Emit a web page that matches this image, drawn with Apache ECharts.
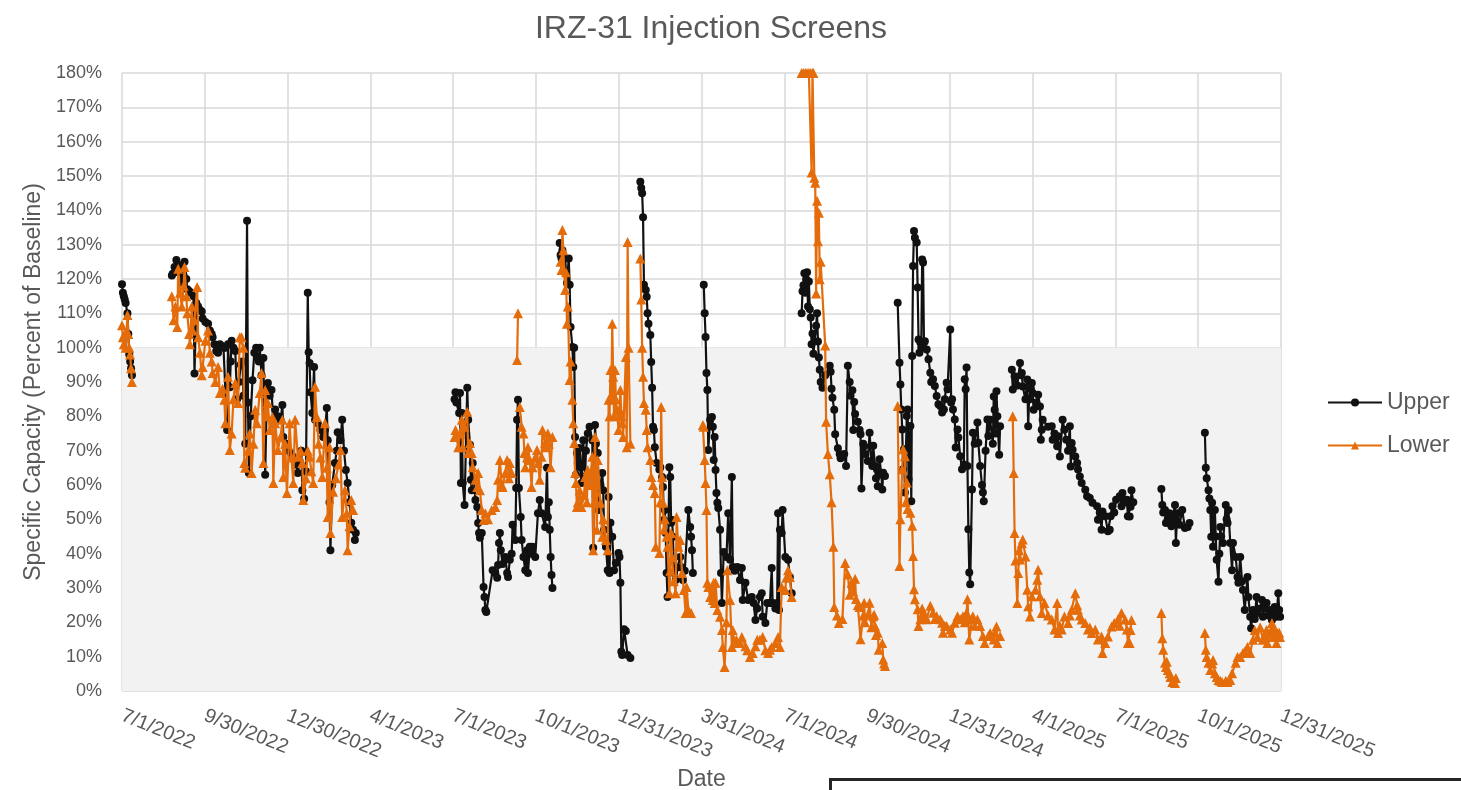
<!DOCTYPE html>
<html><head><meta charset="utf-8">
<script src="https://cdn.jsdelivr.net/npm/echarts@6/dist/echarts.min.js"></script>
<style>html,body{margin:0;padding:0;background:#fff}#chart{width:1461px;height:790px}</style>
</head><body><div id="chart"></div>
<script>
const chartTitle = 'IRZ-31 Injection Screens';
const xAxisTitle = 'Date';
const yAxisTitle = 'Specific Capacity (Percent of Baseline)';
const seriesNames = ['Upper', 'Lower'];
// x values: days since 7/1/2022 (axis runs 7/1/2022 .. 12/31/2025 = day 1279)
const xMaxDay = 1279;
const xTickLabels = ['7/1/2022','9/30/2022','12/30/2022','4/1/2023','7/1/2023','10/1/2023','12/31/2023','3/31/2024','7/1/2024','9/30/2024','12/31/2024','4/1/2025','7/1/2025','10/1/2025','12/31/2025'];
const yMax = 180, yStep = 10, shadedTop = 100;

// ---- Upper screen segments [day, percent] ----
const upperA = [[0,118.5],[1,116],[2,115],[3,114],[4,113],[6,110],[7,104],[8,98],[9,96],[10,94],[11,92]];
const upperB = [[55,121],[56,121.5],[58,123.5],[60,125.5],[62,122],[64,124],[66,119],[68,121],[69,125],[71,120],[72,117],[74,116.5],[76,116],[79,115],[80,92.5],[82,113],[84,112],[86,111],[88,110.5],[89,108.5],[92,107.5],[95,107],[97,105],[99,104],[100,103],[102,101],[104,99],[106,98.5],[108,101],[110,100.5],[112,100],[114,100],[116,76],[117,101],[119,88.5],[120,96],[121,102],[123,100],[125,99],[127,85],[129,90],[131,95],[133,96],[134,86],[136,72],[138,137],[139,84],[140,63.5],[142,80],[144,90.5],[146,98.5],[148,100],[150,97],[151,96],[152,100],[154,92],[156,97],[158,63],[160,88],[161,89.7],[163,86],[165,87.7],[167,78],[169,82],[172,80],[175,79],[177,83.3],[178,74],[181,72],[184,70],[187,69],[189,68],[192,66],[194,63.5],[196,67],[198,70],[199,58.5],[201,56],[203,64],[205,116],[206,98.7],[207,95.5],[208,87],[210,81],[212,94.4],[213,79],[216,78],[219,76],[222,74],[224,76],[226,82.4],[227,73],[229,55],[230,41],[232,60],[235,66.4],[237,70],[238,75.4],[241,73],[243,79],[245,70],[247,64.4],[249,60.6],[251,55],[253,49],[255,47],[257,44],[258,46]];
const upperC1 = [[367,85],[368,87],[369,84],[372,81],[373,86.8],[374,60.6],[375,81],[376,60.6],[378,54.2],[381,88.3],[382,79],[384,71.7],[385,61.5],[386,58.5],[387,66.4],[390,55.6],[392,53.6],[393,48.9],[394,46],[395,44.6],[397,46],[399,30.3],[400,27.4],[401,23.6],[402,23],[409,35.2],[412,34.4],[414,33],[415,36.7],[416,43.1],[417,46],[418,41],[420,37],[423,39],[425,34.4],[426,33.2],[428,38.2],[430,40],[431,48.4],[434,44],[435,59.1],[436,79],[437,84.8],[438,59.1],[440,50.7],[441,44],[443,39],[445,35.2],[447,41],[448,34.4],[450,42],[451,40],[453,42],[456,39],[459,51.8],[461,55.6],[463,51.8],[467,47.8],[469,65],[470,50.7],[471,55],[472,47],[473,39],[474,33.8],[475,30]];
const upperC2 = [[483,130.5],[484,127],[485,126],[486,128.4],[489,126],[491,118.8],[493,126],[494,118.3],[495,106],[497,100.2],[498,94.4],[499,100],[500,74],[501,63],[502,69.3],[503,66.4],[505,70.8],[506,65],[507,60.6],[509,73],[511,62.5],[512,70],[514,75],[516,77],[519,73],[520,41.7],[522,77.5],[523,72],[525,69.3],[526,52.7],[528,60],[530,63.5],[531,58.5],[532,47],[534,42],[536,35.2],[537,56.5],[538,34.4],[539,49],[541,44.9],[543,35.2],[545,37.3],[548,40.2],[549,39],[550,31.5],[551,11.4],[552,10.5],[554,18],[556,17.5],[558,10.5],[561,9.6]];
const upperC3 = [[572,148.3],[573,146.5],[574,145],[575,138],[576,118.3],[578,116.8],[579,114.8],[580,110],[581,107],[583,103.7],[584,95.8],[585,88.3],[586,77],[587,76],[588,71],[590,66.4],[593,64.5],[594,65.2],[596,62.3],[597,59.4],[598,49.8],[599,52.7],[600,46],[601,34.4],[602,27.4],[604,65.2],[605,62.3],[606,49],[607,49.8],[608,44.9],[609,34.4],[611,32.3],[613,36],[616,39],[618,36],[619,32.3],[621,35],[625,52.7],[627,47.8],[628,44.9],[629,41],[630,34.4]];
const upperC4 = [[642,118.3],[643,110],[644,103.1],[645,92.6],[646,87.7],[647,70.2],[649,79],[651,79.8],[652,77],[653,67.3],[654,74],[655,64.4],[656,57.7],[657,54.8],[658,53.3],[660,47],[661,34.4],[662,25.6],[664,40.5],[667,39],[669,51.8],[671,38.2],[673,62.3],[674,36.1],[676,35],[679,36.1],[682,32.3],[684,35.8],[685,26.5],[688,31.5],[691,26.5],[693,27],[695,27.4],[697,25.6],[699,20.7],[701,24],[704,27.4],[706,28.5],[707,21.6],[710,19.8],[712,25.6],[715,25.6],[717,35.8],[718,25.6],[721,24],[723,25.6],[724,51.8],[725,23.6],[726,47],[728,46],[729,52.7],[732,39],[735,38.2],[737,33.2],[739,28.5]];
const upperC5 = [[750,110],[751,116.4],[752,118.2],[753,121.7],[754,116],[755,119.9],[756,122],[757,112],[758,119.3],[759,111.2],[760,108.8],[761,101],[762,104.1],[763,98.2],[766,106.4],[767,110],[768,101.8],[769,97.1],[770,93.6],[771,90],[773,88.3],[776,92],[781,94.7],[782,93],[783,88],[784,85.4],[786,81.9],[787,74.8],[790,70.7],[792,69],[793,67.8],[797,69],[799,65.5],[801,94.7],[803,90],[804,86],[806,87.6],[807,76],[808,84.2],[809,80.7],[812,78.4],[814,76],[815,74.8],[816,59],[818,72],[819,71.3],[820,69],[823,67],[825,75.2],[827,66.6],[828,65.5],[829,71.4],[831,65.5],[832,62],[833,64.6],[834,59.6],[836,67.5],[838,63],[839,58.7],[840,63.6],[842,62.6]];
const upperC6 = [[856,113.1],[858,95.6],[859,89.3],[860,82],[861,76.2],[862,64.6],[863,70.4],[864,57.8],[866,80.1],[867,82],[868,61.7],[870,77.2],[871,55.3],[872,97.6],[873,123.8],[874,134],[875,132],[877,130.6],[878,117.5],[879,102.4],[880,98.5],[881,101.5],[882,100],[883,125.7],[884,124.8],[885,101.5],[886,101.9],[888,99.5],[890,96.6],[892,92.7],[893,90],[895,90.8],[897,88.8],[899,85.9],[901,83.5],[903,83],[905,81.1],[907,82],[908,85],[910,89.8],[911,87.9],[914,105.3],[915,84],[916,85],[917,82],[919,79.1],[920,70.9],[922,76.2],[923,73.8],[925,68.4],[927,64.6],[929,66],[930,90.8],[931,87.9],[932,94.2],[933,65.5],[934,47.1],[935,34.5],[936,31.1],[938,58.7],[939,75.2],[941,72],[944,78.2],[945,72.3],[947,65.5],[949,60],[950,57.8],[951,55.3],[953,70],[955,79.1],[956,74.3],[958,79],[961,72],[962,85.8],[963,81.9],[964,75],[965,87.3],[966,80],[968,68.8],[969,77.1]];
const upperC7 = [[982,93.6],[983,87.8],[985,91.7],[988,89],[991,95.5],[992,92],[993,92.6],[994,88.7],[997,85],[999,90.7],[1000,77.1],[1001,84.9],[1003,88],[1004,89.7],[1005,86.8],[1006,81.9],[1009,84],[1011,86.3],[1013,82.9],[1014,73.2],[1015,76.1],[1016,79],[1022,77],[1026,77.1],[1027,73.2],[1029,75],[1032,71.3],[1033,74.2],[1035,68.3],[1038,79],[1040,76.1],[1042,73.2],[1044,70],[1046,77.1],[1047,65.4],[1048,72.2],[1049,70.3],[1052,68.3],[1054,66.4],[1055,64.5],[1057,62.5],[1059,60.6],[1063,58.6],[1065,56.7],[1068,56.2],[1071,54.8],[1076,53.8],[1077,49.9],[1079,52],[1081,47],[1082,52.3],[1085,50.9],[1088,46.5],[1090,47],[1091,50.9],[1093,53.8],[1095,52],[1097,55.7],[1101,56.7],[1103,53.8],[1104,57.7],[1107,55],[1109,55.7],[1110,50.9],[1112,50.8],[1113,53.7],[1114,58.5],[1116,55]];
const upperC8 = [[1147,58.8],[1148,54.2],[1149,52],[1151,52.7],[1152,48.9],[1154,50],[1156,51.8],[1158,48],[1159,49.8],[1162,54.2],[1163,43.1],[1164,49],[1165,51.8],[1167,48.4],[1170,52.7],[1173,47.5],[1176,47.8],[1178,48.9]];
const upperC9 = [[1195,75.2],[1196,65],[1197,62],[1199,58.5],[1200,56.1],[1201,52.7],[1202,44.9],[1203,54.8],[1204,42],[1206,52.7],[1207,45],[1208,38.2],[1210,31.8],[1211,40],[1212,47.8],[1213,45],[1215,43.1],[1218,54.2],[1219,50],[1220,48.9],[1221,52.7],[1223,43.1],[1225,35.2],[1226,43.1],[1229,39],[1231,33.2],[1232,31.5],[1234,39],[1236,32],[1237,29.4],[1239,23.6],[1242,33.2],[1243,27.4],[1245,21.6],[1246,18.3],[1248,23.6],[1250,21],[1252,27.4],[1253,22.7],[1256,24],[1258,26.5],[1259,21.6],[1261,24],[1263,25.6],[1265,22],[1267,23.6],[1269,20.7],[1271,23],[1272,24.5],[1274,21.6],[1276,28.5],[1277,23.6],[1278,21.6]];

// ---- Lower screen segments [day, percent] ----
const lowerA = [[0,106.5],[1,103],[2,101],[3,104],[4,100],[6,109.5],[7,104],[8,100],[9,98],[10,94],[11,90]];
const lowerB = [[55,115],[57,108],[59,112],[61,106],[62,123],[64,116],[66,112],[68,118],[69,123.5],[71,115],[72,110],[74,104],[75,101],[77,112],[78,105],[80,108],[83,117.7],[84,103],[86,98.5],[88,92],[89,94.4],[92,102],[95,105],[97,98.5],[99,96],[100,92.6],[103,90],[106,94.4],[108,86.8],[111,88],[113,84.8],[114,78],[117,91.5],[119,70.2],[121,75],[123,85],[125,89.7],[128,83.9],[130,103],[132,103],[134,100],[135,66.4],[136,65],[139,70],[141,75],[143,63.5],[145,72],[147,81.9],[149,78],[152,86.8],[154,92.6],[156,66.4],[158,87.7],[160,80],[161,83.9],[163,76],[166,79.8],[167,60.6],[169,78],[172,70.2],[175,74],[177,79],[178,62.3],[180,72],[182,57.7],[185,78],[187,68],[189,60.6],[191,79],[194,68.2],[197,70],[199,66.4],[200,55.6],[203,62],[205,70],[207,68.2],[209,64],[211,60.6],[213,88.6],[215,79.8],[217,72],[219,68],[221,62.3],[224,78],[226,65],[227,50.7],[229,71],[230,46],[233,58],[236,62],[239,66],[241,70.2],[243,50.7],[246,58.5],[248,51.8],[249,41],[251,48],[253,55.6],[255,52.7]];
const lowerC1 = [[367,74],[368,76],[371,71],[373,75],[375,79],[376,71],[378,77],[381,81.3],[382,69.3],[384,72.2],[386,69.3],[387,65.2],[390,61.5],[392,59.4],[393,63.5],[395,58.5],[397,52.7],[399,49.8],[401,51.8],[404,50],[408,52.7],[412,53.6],[414,55.6],[415,61.5],[417,67.3],[419,60],[420,59.4],[423,63.5],[425,67.3],[427,62],[428,66.4],[430,63.5]];
const lowerC2 = [[436,96.4],[437,110]];
const lowerC3 = [[439,82.7],[441,77],[443,75],[444,69.3],[445,65.2],[447,68],[448,71],[450,67.3],[452,59.4],[453,65.2],[456,68],[458,70.2],[459,66.4],[461,61.5],[463,68.2],[464,76],[467,72.2],[468,71],[470,75],[471,72],[473,65.2],[475,74]];
const lowerC4 = [[484,125],[485,122.6],[486,134.3],[487,128.4],[489,116.8],[490,122],[491,107],[492,112],[494,90.6],[495,96],[497,84.8],[498,78],[499,72.2],[500,63.5],[501,60.6],[502,53.6],[503,55],[505,58.5],[507,53.6],[510,57],[511,62.3],[513,55],[514,64.4],[516,60],[519,68.2],[520,41],[521,55],[522,74],[523,58],[524,47],[525,67.3],[528,54.8],[530,44.9],[531,50],[534,44],[536,41],[537,84.8],[538,80],[539,93.5],[540,85],[541,107],[542,91.5],[543,80],[544,93.5],[545,85],[546,81.9],[548,76],[549,82],[550,87.7],[551,80],[552,78],[553,74],[556,97.3],[557,71],[558,130.8],[559,100],[561,72]];
const lowerC5 = [[572,126],[573,114],[574,100],[575,91.5],[576,83.9],[578,81.9],[579,76],[580,71],[583,67.3],[584,62.3],[586,60],[588,57.7],[589,42],[593,40.2],[594,55],[595,82.7],[596,62.3],[597,54.8],[598,47],[599,50],[601,44.9],[602,42],[604,28.5],[605,35],[606,46],[607,39],[609,32],[611,28.5],[612,50.7],[614,42],[616,44],[618,34.4],[620,29.4],[622,22.7],[623,30.3],[625,23.6],[628,22.7]];
const lowerC6 = [[641,77.5],[642,77],[643,67.3],[644,60.6],[645,52.7],[646,31.5],[647,30.3],[649,27.4],[651,30.3],[652,26.5],[653,31.5],[654,25.6],[655,31.5],[657,23.6],[660,21.6],[662,17.8],[663,12.8],[665,7],[667,20],[668,35.2],[671,26.5],[673,12.8],[674,17.8],[676,14],[678,14.9],[682,14],[684,15.7],[688,13],[690,11.9],[693,9.9],[696,11.1],[699,13],[701,14.9],[704,14.9],[707,15.7],[710,11.9],[713,11.1],[715,12],[717,12.8],[721,14],[724,15.7],[726,12.8],[728,30.3],[732,29.4],[733,33],[735,35.2],[737,33.2],[739,27.4]];
const lowerC7 = [[750,180],[752,180],[754,180],[756,180],[758,180],[760,180],[761,151],[762,180],[763,180],[764,149.5],[765,148],[766,115.8],[767,142.8],[768,131],[769,139.3],[770,119.9],[771,125],[776,100.6],[777,78.4],[779,69],[781,63.1],[783,55],[785,42],[786,24.5],[789,22],[791,19.8],[795,21],[798,37.3],[801,33.9],[803,28],[805,31.5],[807,29],[809,32.7],[810,26.8],[812,25],[814,24.5],[815,15.1],[818,22],[819,25.7],[820,20],[823,22.2],[825,25.7],[827,18.6],[829,21.8],[830,22.2],[831,18.9],[832,16.3],[834,17],[835,12],[839,14],[840,9.2],[841,8],[842,7.3]];
const lowerC8 = [[856,83],[858,36.4],[859,50],[861,64.6],[862,70.4],[864,68.4],[865,55],[866,60.7],[867,53],[870,51.9],[872,48.1],[873,39.3],[874,29.6],[875,26.7],[878,23.8],[879,18.9],[881,20.9],[883,24],[884,22.8],[886,22],[888,20.9],[892,24.8],[895,22.8],[897,21],[899,21.8],[903,20.9],[905,19.9],[906,17],[908,19],[910,18.9],[914,17.9],[916,17],[919,19.9],[922,21.8],[925,20.9],[928,21.8],[930,20],[932,22.8],[933,26.7],[934,21],[935,15],[938,20.9],[939,21.8],[941,19],[944,20.9],[947,18.9],[950,16],[952,14],[956,16],[958,16.9],[962,15],[963,17],[965,18.8],[966,14],[969,16]];
const lowerC9 = [[983,80],[984,63.5],[985,46],[986,38],[988,25.6],[989,34.4],[990,41],[991,38.3],[993,43.1],[994,44.1],[997,39.2],[999,29.5],[1000,24.7],[1002,21.7],[1004,27.6],[1008,29.5],[1010,32.4],[1011,35.3],[1013,27.6],[1015,22.7],[1018,25.6],[1022,22],[1026,20.8],[1029,17.9],[1032,25.6],[1033,16.9],[1035,19],[1037,17.9],[1040,21.7],[1044,19.8],[1046,22],[1048,23.7],[1052,28.5],[1054,25],[1055,23.7],[1057,22],[1059,20.8],[1063,19.8],[1066,17.9],[1068,18.5],[1070,16.9],[1074,17.9],[1077,15],[1081,15.9],[1082,11.1],[1085,14],[1088,15.9],[1092,18.8],[1095,19.8],[1099,20.8],[1101,19],[1103,22.7],[1107,20.8],[1109,17.9],[1110,14],[1112,14],[1113,17.8],[1114,20.7]];
const lowerC10 = [[1147,22.7],[1148,15.4],[1149,12],[1151,8.2],[1152,7],[1153,8.5],[1154,6.1],[1156,5.2],[1157,4.1],[1159,2.6],[1162,2.3],[1163,3.8]];
const lowerC11 = [[1195,16.9],[1196,12],[1197,9.9],[1199,8.2],[1201,6.1],[1203,8],[1204,9],[1206,5.2],[1208,4.1],[1210,3.2],[1212,3],[1214,2.6],[1218,3],[1220,2.6],[1223,3.2],[1225,5.2],[1229,8.2],[1231,9.9],[1234,9.9],[1237,11.1],[1239,11.5],[1242,12.8],[1245,11.1],[1248,14.9],[1250,17.8],[1253,15.7],[1256,18.6],[1259,14.9],[1261,16],[1263,17.8],[1264,14],[1267,17],[1269,19.8],[1270,15.7],[1272,18],[1274,14],[1275,16.9],[1277,17],[1278,15.7]];

const upperSegments = [upperA, upperB, upperC1, upperC2, upperC3, upperC4, upperC5, upperC6, upperC7, upperC8, upperC9];
const lowerSegments = [lowerA, lowerB, lowerC1, lowerC2, lowerC3, lowerC4, lowerC5, lowerC6, lowerC7, lowerC8, lowerC9, lowerC10, lowerC11];

function joinSegments(segs) {
  const out = [];
  segs.forEach((s, i) => {
    if (i > 0) {
      const prev = segs[i - 1];
      out.push([(prev[prev.length - 1][0] + s[0][0]) / 2, '-']);
    }
    s.forEach(p => out.push(p));
  });
  return out;
}

const FONT = "'Liberation Sans', Arial, sans-serif";
const TXT = '#595959';
const xInterval = xMaxDay / (xTickLabels.length - 1);

const chart = echarts.init(document.getElementById('chart'), null, { renderer: 'canvas' });
chart.setOption({
  backgroundColor: '#ffffff',
  animation: false,
  textStyle: { fontFamily: FONT },
  title: {
    text: chartTitle, left: 706, top: 8, textAlign: 'center',
    textStyle: { fontFamily: FONT, fontSize: 32, fontWeight: 'normal', color: TXT }
  },
  grid: { left: 122, right: 180, top: 73, bottom: 99, containLabel: false, outerBoundsMode: 'none' },
  legend: {
    data: seriesNames, orient: 'vertical', left: 1322, top: 386, itemGap: 20,
    itemWidth: 54, itemHeight: 10,
    textStyle: { fontFamily: FONT, fontSize: 23, color: TXT, padding: [0, 0, 0, 0] }
  },
  xAxis: {
    type: 'value', min: 0, max: xMaxDay, interval: xInterval,
    name: xAxisTitle, nameLocation: 'middle', nameGap: 67,
    nameTextStyle: { fontFamily: FONT, fontSize: 23, color: TXT },
    axisLine: { show: false }, axisTick: { show: false },
    splitLine: { show: true, lineStyle: { color: '#d9d9d9', width: 1.5 } },
    axisLabel: {
      rotate: -22, margin: 24, fontFamily: FONT, fontSize: 20, color: TXT,
      showMinLabel: true, showMaxLabel: true,
      formatter: v => { const i = Math.round(v / xInterval); return xTickLabels[i] || ''; }
    }
  },
  yAxis: {
    type: 'value', min: 0, max: yMax, interval: yStep,
    name: yAxisTitle, nameLocation: 'middle', nameGap: 72, nameRotate: 90,
    nameTextStyle: { fontFamily: FONT, fontSize: 23, color: TXT },
    axisLine: { show: false }, axisTick: { show: false },
    splitLine: { show: true, lineStyle: { color: '#d9d9d9', width: 1.5 } },
    axisLabel: { margin: 20, fontFamily: FONT, fontSize: 18, color: TXT, formatter: '{value}%' }
  },
  graphic: [{
    type: 'rect', left: 829, top: 778, z: 100,
    shape: { width: 700, height: 40 },
    style: { fill: '#ffffff', stroke: '#262626', lineWidth: 3 }
  }],
  series: [
    {
      name: 'band', type: 'line', data: [], z: -1, silent: true,
      markArea: { silent: true, itemStyle: { color: '#f2f2f2' }, data: [[{ yAxis: 0 }, { yAxis: shadedTop }]] }
    },
    {
      name: seriesNames[0], type: 'line', z: 2, data: joinSegments(upperSegments),
      connectNulls: false, showAllSymbol: true, symbol: 'circle', symbolSize: 8,
      lineStyle: { color: '#111111', width: 2.2 }, itemStyle: { color: '#111111' }
    },
    {
      name: seriesNames[1], type: 'line', z: 3, data: joinSegments(lowerSegments),
      connectNulls: false, showAllSymbol: true, symbol: 'triangle', symbolSize: 10,
      lineStyle: { color: '#E46C0A', width: 2.2 }, itemStyle: { color: '#E46C0A' }
    }
  ]
});
</script></body></html>
